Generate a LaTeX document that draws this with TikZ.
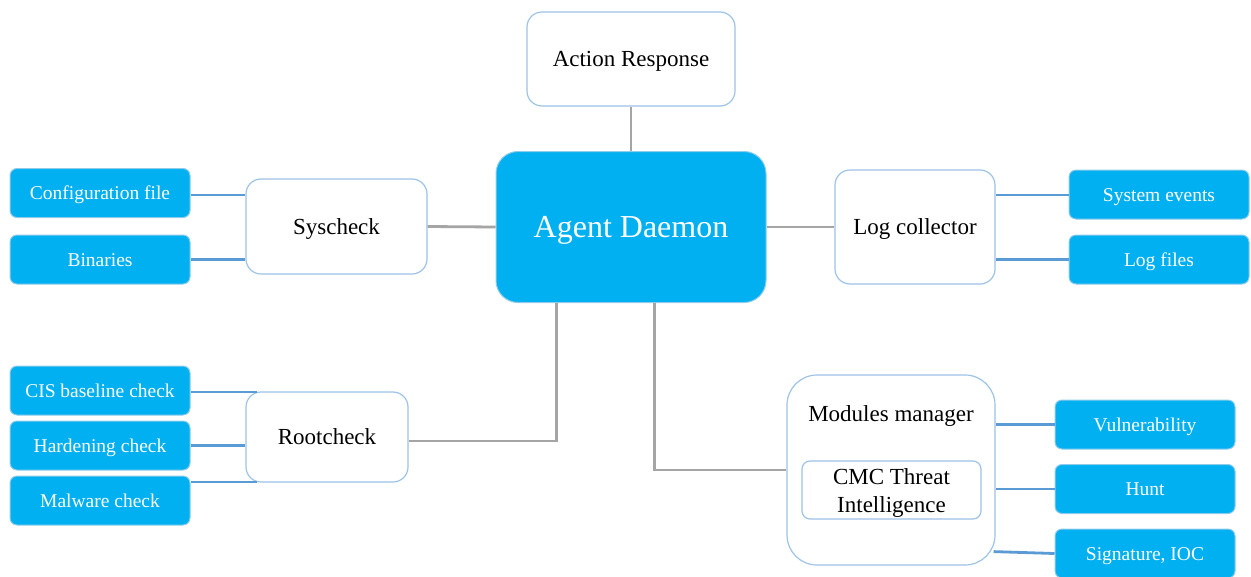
\documentclass[tikz,border=0pt]{standalone}
\usepackage{fontspec}
\setmainfont{Liberation Serif}
\usetikzlibrary{calc}
\definecolor{cfill}{HTML}{00B0F0}
\definecolor{cedge}{HTML}{8FCBEB}
\definecolor{wedge}{HTML}{9DC3E6}
\definecolor{bline}{HTML}{5B9BD5}
\definecolor{gline}{HTML}{A5A5A5}
\tikzset{
  x=1pt,y=-1pt,
  leaf/.style={fill=cfill,draw=cedge,line width=1pt,rounded corners=7pt,
    minimum width=180pt,minimum height=49pt,inner sep=0pt,text=white,
    text height=13pt,text depth=0pt,
    font=\fontsize{19.5}{22}\selectfont},
  wbox/.style={fill=white,draw=wedge,line width=1.2pt,rounded corners=15pt,
    inner sep=0pt,text=black,text height=15pt,text depth=0pt,
    font=\fontsize{23}{27}\selectfont},
  gconn/.style={draw=gline,line width=2.8pt},
  bconn/.style={draw=bline,line width=2.8pt},
}
\begin{document}
\begin{tikzpicture}
\useasboundingbox (0,0) rectangle (1251,576);
\clip (0,0) rectangle (1251,576);
% central
\node[fill=cfill,draw=cedge,line width=1pt,rounded corners=22pt,minimum width=270pt,
  minimum height=151pt,inner sep=0pt,text=white,text height=21pt,text depth=0pt,
  font=\fontsize{32}{36}\selectfont]
  (ad) at (631,227) {Agent Daemon};
\node[wbox,minimum width=208pt,minimum height=94pt] (ar) at (631,59) {Action Response};
\node[wbox,minimum width=181pt,minimum height=95pt] (sc) at (336.5,226.5) {Syscheck};
\node[wbox,minimum width=160pt,minimum height=114pt] (lc) at (915,227) {Log collector};
\node[wbox,minimum width=162pt,minimum height=90pt] (rc) at (327,437) {Rootcheck};
\node[wbox,rounded corners=30pt,minimum width=208pt,minimum height=190pt] (mm) at (891,470) {};
\node[text height=15pt,text depth=0pt,inner sep=0pt,font=\fontsize{23}{27}\selectfont] (mmt) at (891,414) {Modules manager};
\node[fill=white,draw=wedge,line width=1.2pt,rounded corners=8pt,inner sep=0pt,
  minimum width=179pt,minimum height=58pt] (cmc) at (891.5,490) {};
\node[align=center,inner sep=0pt,font=\fontsize{23}{28}\selectfont] (cmct) at (891.5,492.5) {CMC Threat\\Intelligence};
% leaves
\node[leaf] (cfg) at (100,193) {Configuration file};
\node[leaf] (bin) at (100,259.5) {Binaries};
\node[leaf] (cis) at (100,390.5) {CIS baseline check};
\node[leaf] (hard) at (100,445.5) {Hardening check};
\node[leaf] (mal) at (100,500.5) {Malware check};
\node[leaf] (sev) at (1159,194.5) {System events};
\node[leaf] (lf) at (1159,259.5) {Log files};
\node[leaf] (vul) at (1145,424.5) {Vulnerability};
\node[leaf] (hunt) at (1145,489) {Hunt};
\node[leaf] (sig) at (1145,553.5) {Signature, IOC};
% gray connectors
\draw[gconn] (ar.south) -- (ad.north);
\draw[gconn] (sc.east) -- (ad.west);
\draw[gconn] (ad.east) -- (lc.west);
\draw[gconn] ([xshift=61pt]ad.south west) |- ([yshift=-4pt]rc.east);
\draw[gconn] ([xshift=159pt]ad.south west) |- (mm.west);
% blue connectors
\draw[bconn] ([yshift=-2pt]cfg.east) -- ([yshift=-2pt]cfg.east -| sc.west);
\draw[bconn] (bin.east) -- (bin.east -| sc.west);
\draw[bconn] ([yshift=-1.5pt]cis.east) -- ([xshift=12pt,yshift=-1.5pt]cis.east -| rc.west);
\draw[bconn] (hard.east) -- (hard.east -| rc.west);
\draw[bconn] ([yshift=18.5pt]mal.east) -- ([xshift=12pt,yshift=18.5pt]mal.east -| rc.west);
\draw[bconn] ([yshift=-0.5pt]sev.west -| lc.east) -- ([yshift=-0.5pt]sev.west);
\draw[bconn] (lf.west -| lc.east) -- (lf.west);
\draw[bconn] (vul.west -| mm.east) -- (vul.west);
\draw[bconn] (hunt.west -| mm.east) -- (hunt.west);
\draw[bconn] ($(mm.south east)+(-2,-14)$) -- (sig.west);
\end{tikzpicture}
\end{document}
